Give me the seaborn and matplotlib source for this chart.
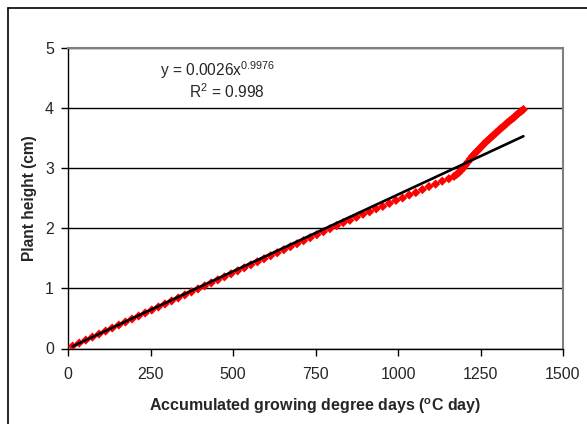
import matplotlib
matplotlib.use("Agg")
import matplotlib.pyplot as plt
import seaborn as sns
import numpy as np
import pandas as pd
from matplotlib.lines import Line2D

# ---- data ----
gdd = [14, 34, 54, 74, 94, 114, 134, 154, 174, 194, 214, 234, 254, 274, 294,
       314, 334, 354, 374, 394, 414, 434, 454, 474, 494, 514, 534, 554, 574,
       594, 614, 634, 654, 674, 694, 714, 734, 754, 774, 794, 814, 834, 854,
       874, 894, 914, 934, 954, 974, 994, 1014, 1034, 1054, 1074, 1094, 1114,
       1134, 1154, 1170, 1177, 1184, 1191, 1198, 1205, 1212, 1219, 1226, 1233,
       1240, 1247, 1254, 1261, 1268, 1275, 1282, 1289, 1296, 1303, 1310, 1317,
       1324, 1331, 1338, 1345, 1352, 1359, 1366, 1373, 1380]
height = [0.04, 0.09, 0.14, 0.19, 0.24, 0.29, 0.34, 0.39, 0.44, 0.49, 0.54,
          0.59, 0.64, 0.69, 0.74, 0.79, 0.84, 0.89, 0.94, 0.99, 1.04, 1.09,
          1.14, 1.19, 1.24, 1.29, 1.34, 1.39, 1.44, 1.49, 1.54, 1.59, 1.64,
          1.69, 1.74, 1.79, 1.84, 1.89, 1.94, 1.99, 2.04, 2.09, 2.13, 2.18,
          2.23, 2.27, 2.32, 2.36, 2.41, 2.46, 2.50, 2.55, 2.59, 2.64, 2.69,
          2.73, 2.78, 2.82, 2.86, 2.89, 2.92, 2.96, 3.00, 3.05, 3.10, 3.15,
          3.20, 3.24, 3.28, 3.32, 3.36, 3.40, 3.44, 3.47, 3.51, 3.54, 3.58,
          3.61, 3.65, 3.68, 3.71, 3.75, 3.78, 3.81, 3.84, 3.88, 3.91, 3.94,
          3.97]
fit_a = 0.0026
fit_b = 0.9976
r2 = 0.998
x_ticks = [0, 250, 500, 750, 1000, 1250, 1500]
y_ticks = [0, 1, 2, 3, 4, 5]

df = pd.DataFrame({"gdd": gdd, "height": height})
df["fit"] = fit_a * np.power(df["gdd"], fit_b)

sns.set_style("white")
plt.rcParams["font.family"] = ["Liberation Sans", "DejaVu Sans"]
plt.rcParams["mathtext.fontset"] = "custom"
plt.rcParams["mathtext.rm"] = "Liberation Sans"
plt.rcParams["mathtext.default"] = "regular"

fig = plt.figure(figsize=(5.87, 4.24), dpi=100)
ax = fig.add_axes([68 / 587, 1 - 348.5 / 424, (563 - 68) / 587, (348.5 - 47.5) / 424])

# data series: thin blue dotted line with red diamond markers
sns.lineplot(data=df, x="gdd", y="height", ax=ax, color="#0000ff",
             linestyle=":", linewidth=0.8, zorder=3)
sns.scatterplot(data=df, x="gdd", y="height", ax=ax, marker="D", s=22,
                color="#ff0000", edgecolor="none", linewidth=0, zorder=4)
# power trend line
sns.lineplot(data=df, x="gdd", y="fit", ax=ax, color="black", linewidth=1.9,
             zorder=5)

ax.set_xlim(0, 1500)
ax.set_ylim(0, 5)
ax.set_xticks(x_ticks)
ax.set_yticks(y_ticks)
ax.set_xticklabels([str(v) for v in x_ticks])
ax.set_yticklabels([str(v) for v in y_ticks])
ax.yaxis.grid(True, color="black", linewidth=1.0)
ax.xaxis.grid(False)
ax.set_axisbelow(True)

for s in ["top", "right"]:
    ax.spines[s].set_color("#808080")
    ax.spines[s].set_linewidth(1.5)
for s in ["left", "bottom"]:
    ax.spines[s].set_color("black")
    ax.spines[s].set_linewidth(1.0)

ax.tick_params(axis="both", which="major", direction="out", length=5,
               width=1, color="black", labelsize=11.5, bottom=True, left=True)
ax.tick_params(axis="x", pad=8)
ax.tick_params(axis="y", pad=5)

ax.set_xlabel("Accumulated growing degree days ($^{o}$C day)",
              fontsize=11.5, fontweight="bold", labelpad=11)
ax.set_ylabel("Plant height (cm)", fontsize=11.2, fontweight="bold",
              labelpad=6)

ax.text(0.303, 0.925, "y = %.4fx$^{%.4f}$" % (fit_a, fit_b),
        transform=ax.transAxes, ha="center", va="center", fontsize=11.2)
ax.text(0.32, 0.852, "R$^{2}$ = %.3f" % r2, transform=ax.transAxes,
        ha="center", va="center", fontsize=11.2)

# outer chart frame (runs off the right and bottom of the image)
fig.add_artist(Line2D([7.5 / 587, 7.5 / 587], [1 - 7.5 / 424, -0.1],
                      transform=fig.transFigure, color="black", linewidth=1.2))
fig.add_artist(Line2D([7.5 / 587, 1.1], [1 - 7.5 / 424, 1 - 7.5 / 424],
                      transform=fig.transFigure, color="black", linewidth=1.2))

fig.savefig("out.png", dpi=100)
